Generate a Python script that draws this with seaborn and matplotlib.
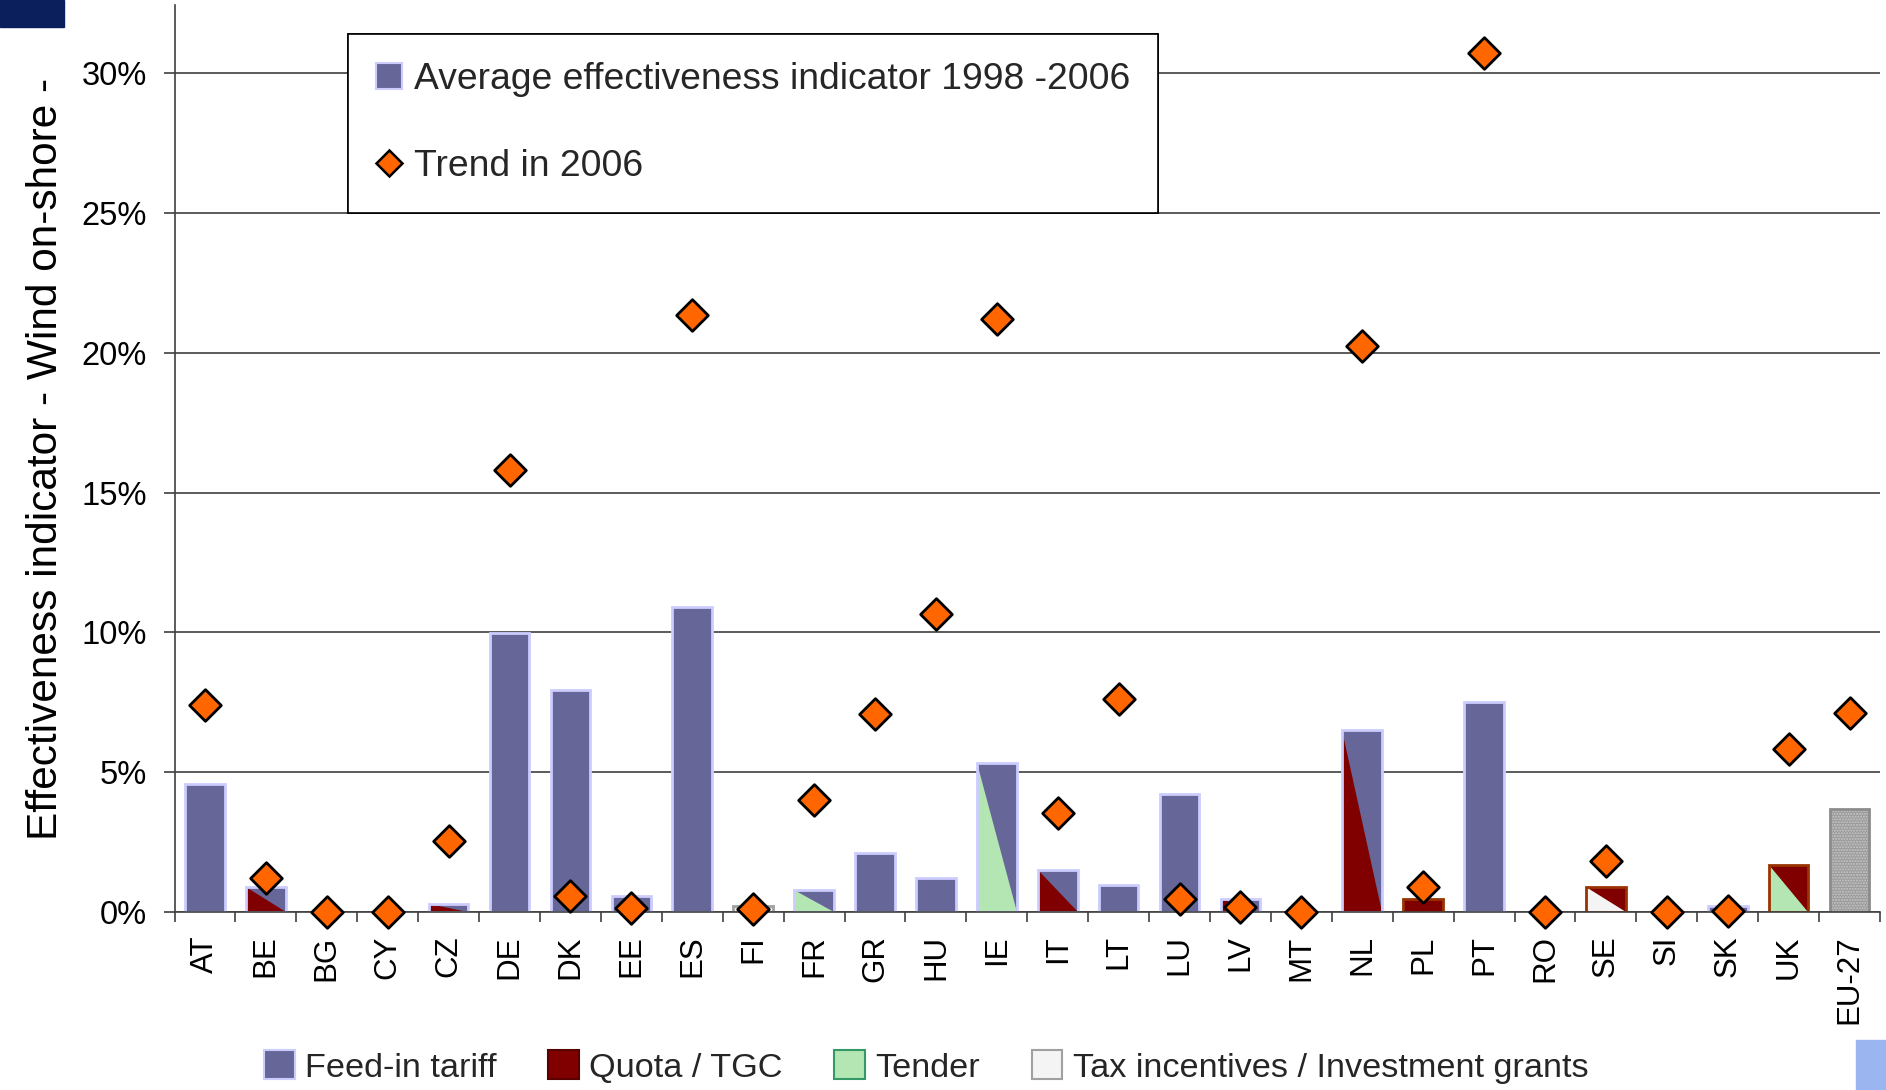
import numpy as np
import pandas as pd
import matplotlib
matplotlib.use("Agg")
import matplotlib.pyplot as plt
import seaborn as sns
from matplotlib.patches import Patch, Polygon, Rectangle
from matplotlib.lines import Line2D
from matplotlib.ticker import PercentFormatter, MultipleLocator

# ---------------------------------------------------------------- data
countries = ["AT", "BE", "BG", "CY", "CZ", "DE", "DK", "EE", "ES", "FI",
             "FR", "GR", "HU", "IE", "IT", "LT", "LU", "LV", "MT", "NL",
             "PL", "PT", "RO", "SE", "SI", "SK", "UK", "EU-27"]

# average effectiveness indicator 1998-2006 (%)
avg_effectiveness = [4.57, 0.87, 0.00, 0.00, 0.27, 9.99, 7.92, 0.57, 10.89, 0.20,
                     0.78, 2.11, 1.19, 5.31, 1.50, 0.97, 4.22, 0.44, 0.00, 6.50,
                     0.45, 7.50, 0.00, 0.87, 0.00, 0.20, 1.67, 3.69]

# trend in 2006 (%)
trend_2006 = [7.40, 1.19, 0.00, 0.00, 2.53, 15.80, 0.56, 0.14, 21.35, 0.10,
              4.00, 7.06, 10.67, 21.20, 3.52, 7.62, 0.47, 0.17, 0.00, 20.23,
              0.87, 30.73, 0.00, 1.81, 0.00, 0.03, 5.81, 7.12]

# main support instrument (whole bar) and secondary one (lower-left triangle)
main_instrument = ["FIT", "FIT", "none", "none", "FIT", "FIT", "FIT", "FIT", "FIT", "TAX",
                   "FIT", "FIT", "FIT", "FIT", "FIT", "FIT", "FIT", "FIT", "none", "FIT",
                   "QUOTA", "FIT", "none", "QUOTA", "none", "FIT", "QUOTA", "EU"]
second_instrument = ["", "QUOTA", "", "", "QUOTA", "", "", "", "", "",
                     "TENDER", "", "", "TENDER", "QUOTA", "", "", "QUOTA", "", "QUOTA",
                     "", "", "", "TAX", "", "", "TENDER", ""]

instrument_labels = ["Feed-in tariff", "Quota / TGC", "Tender",
                     "Tax incentives / Investment grants"]

# ---------------------------------------------------------------- styles
fill = {"FIT": "#666699", "QUOTA": "#800000", "TENDER": "#B3E6B3",
        "TAX": "#F4F4F4", "EU": "#9A9A9A", "none": "#FFFFFF"}
edge = {"FIT": "#CCCCFF", "QUOTA": "#993300", "TENDER": "#339966",
        "TAX": "#A0A0A0", "EU": "#8C8C8C", "none": "none"}
legend_edge = {"FIT": "#CCCCFF", "QUOTA": "#5A0000", "TENDER": "#339966", "TAX": "#A0A0A0"}
GRID = "#404040"

sns.set_theme(style="white")
plt.rcParams["font.family"] = ["Liberation Sans", "DejaVu Sans"]
plt.rcParams["hatch.color"] = "#C8C8C8"
plt.rcParams["hatch.linewidth"] = 1.0

df = pd.DataFrame({"country": countries, "avg": avg_effectiveness,
                   "trend": trend_2006, "main": main_instrument,
                   "second": second_instrument})

W, H = 1886, 1090
fig = plt.figure(figsize=(W / 100, H / 100), dpi=100)
x0_px, x1_px, y0_px, y1_px = 174.5, 1880, 911.7, 5
ax = fig.add_axes([x0_px / W, 1 - y0_px / H, (x1_px - x0_px) / W, (y0_px - y1_px) / H])

palette = {c: fill[m] for c, m in zip(countries, main_instrument)}
sns.barplot(data=df, x="country", y="avg", hue="country", palette=palette,
            legend=False, width=0.65, saturation=1, ax=ax, zorder=2)

# style each bar according to its instruments
for bar in ax.patches:
    idx = int(round(bar.get_x() + bar.get_width() / 2))
    m, s = main_instrument[idx], second_instrument[idx]
    bx, bw, bh = bar.get_x(), bar.get_width(), bar.get_height()
    bar.set_linewidth(0)
    if m == "none" or bh <= 0:
        bar.set_visible(False)
        continue
    if s:
        ax.add_patch(Polygon([(bx, bh), (bx, 0), (bx + bw, 0)], closed=True,
                             facecolor=fill[s], edgecolor="none", zorder=2.1))
    if m == "EU":
        ax.add_patch(Rectangle((bx, 0), bw, bh, facecolor="none", edgecolor="#C8C8C8",
                               hatch="......", linewidth=0, zorder=2.15))
    ax.add_patch(Rectangle((bx, 0), bw, bh, fill=False, edgecolor=edge[m],
                           linewidth=2.0, zorder=2.2))

sns.scatterplot(data=df, x="country", y="trend", marker="D", s=260,
                color="#FF6600", edgecolor="black", linewidth=2.0,
                zorder=5, clip_on=False, ax=ax)

# ---------------------------------------------------------------- axes
ax.set_xlim(-0.5, len(countries) - 0.5)
ax.set_ylim(0, 32.45)
ax.yaxis.set_major_locator(MultipleLocator(5))
ax.yaxis.set_major_formatter(PercentFormatter(100, decimals=0))
ax.set_axisbelow(True)
ax.grid(axis="y", color=GRID, linewidth=1.2)
ax.grid(axis="x", visible=False)
for side in ("top", "right"):
    ax.spines[side].set_visible(False)
for side in ("left", "bottom"):
    ax.spines[side].set_color(GRID)
    ax.spines[side].set_linewidth(1.2)

ax.tick_params(axis="y", length=8, width=1.2, color=GRID, pad=12,
               labelsize=23.5, labelcolor="black", left=True)
ax.set_xticks(np.arange(len(countries)))
ax.set_xticklabels(countries, rotation=90, fontsize=22.5, color="black")
ax.set_xticks(np.arange(-0.5, len(countries), 1), minor=True)
ax.tick_params(axis="x", which="major", length=0, pad=17)
ax.tick_params(axis="x", which="minor", length=7, width=1.2, color=GRID,
               direction="out", bottom=True)
ax.set_xlabel("")
ax.set_ylabel("Effectiveness indicator - Wind on-shore -", fontsize=30.5, color="black")
ax.yaxis.set_label_coords(-0.0636, 0.499)

# ---------------------------------------------------------------- legends
top_handles = [
    Patch(facecolor=fill["FIT"], edgecolor=edge["FIT"], linewidth=1.5),
    Line2D([], [], linestyle="none", marker="D", markersize=13.5,
           markerfacecolor="#FF6600", markeredgecolor="black", markeredgewidth=1.8),
]
top_leg = ax.legend(top_handles,
                    ["Average effectiveness indicator 1998 -2006", "Trend in 2006"],
                    loc="upper left", bbox_to_anchor=(348 / W, 1 - 34 / H),
                    bbox_transform=fig.transFigure, fontsize=26.8, frameon=True,
                    fancybox=False, framealpha=1, edgecolor="black",
                    borderpad=0.76, labelspacing=1.4, handlelength=0.7,
                    handleheight=0.7, handletextpad=0.3, borderaxespad=0)
top_leg.get_frame().set_linewidth(1.2)
ax.add_artist(top_leg)

keys = ["FIT", "QUOTA", "TENDER", "TAX"]
bottom_handles = [Patch(facecolor=fill[k], edgecolor=legend_edge[k], linewidth=1.5)
                  for k in keys]
fig.legend(bottom_handles, instrument_labels, loc="center",
           bbox_to_anchor=(0.491, 1 - 1067 / H), ncol=4, frameon=False,
           fontsize=24.7, handlelength=0.9, handleheight=0.9, handletextpad=0.3,
           columnspacing=1.5)

# ---------------------------------------------------------------- page corners
fig.patches.append(Rectangle((0, 1 - 27 / H), 64 / W, 27 / H,
                             transform=fig.transFigure, color="#0A1F5C", zorder=0))
fig.patches.append(Rectangle((1856 / W, 0), 30 / W, 50 / H,
                             transform=fig.transFigure, color="#9BB5F0", zorder=0))

fig.savefig("out.png", dpi=100, facecolor="white")
